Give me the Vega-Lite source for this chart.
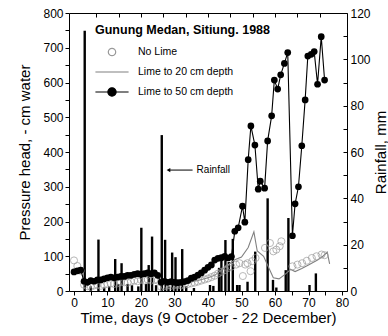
{
  "$schema": "https://vega.github.io/schema/vega-lite/v6.json",
  "width": 278,
  "height": 278,
  "autosize": "none",
  "padding": {"left": 69, "top": 13, "right": 41, "bottom": 45},
  "background": "white",
  "title": {
    "text": "Gunung Medan, Sitiung. 1988",
    "anchor": "start",
    "frame": "group",
    "offset": -29,
    "dx": 26,
    "font": "Liberation Sans",
    "fontSize": 12.5,
    "fontWeight": "bold",
    "color": "black"
  },
  "config": {
    "font": "Liberation Sans",
    "view": {"stroke": "black", "strokeWidth": 1},
    "axis": {
      "grid": false,
      "domainColor": "black",
      "tickColor": "black",
      "labelColor": "black",
      "titleColor": "black",
      "labelFont": "Liberation Sans",
      "titleFont": "Liberation Sans",
      "labelFontSize": 12,
      "titleFontSize": 15,
      "titleFontWeight": "normal",
      "tickSize": 4,
      "labelPadding": 2
    }
  },
  "datasets": {
    "pressure": [
      {"d": 0, "h": 88, "s": "No Lime"}, {"d": 1, "h": 72, "s": "No Lime"}, {"d": 2, "h": 58, "s": "No Lime"},
      {"d": 3, "h": 18, "s": "No Lime"}, {"d": 4, "h": 14, "s": "No Lime"}, {"d": 5, "h": 12, "s": "No Lime"},
      {"d": 6, "h": 16, "s": "No Lime"}, {"d": 7, "h": 18, "s": "No Lime"}, {"d": 8, "h": 15, "s": "No Lime"},
      {"d": 9, "h": 18, "s": "No Lime"}, {"d": 10, "h": 20, "s": "No Lime"}, {"d": 11, "h": 22, "s": "No Lime"},
      {"d": 12, "h": 20, "s": "No Lime"}, {"d": 13, "h": 22, "s": "No Lime"}, {"d": 14, "h": 25, "s": "No Lime"},
      {"d": 15, "h": 25, "s": "No Lime"}, {"d": 16, "h": 24, "s": "No Lime"}, {"d": 17, "h": 27, "s": "No Lime"},
      {"d": 18, "h": 30, "s": "No Lime"}, {"d": 19, "h": 28, "s": "No Lime"}, {"d": 20, "h": 32, "s": "No Lime"},
      {"d": 21, "h": 30, "s": "No Lime"}, {"d": 22, "h": 33, "s": "No Lime"}, {"d": 23, "h": 30, "s": "No Lime"},
      {"d": 24, "h": 32, "s": "No Lime"}, {"d": 25, "h": 30, "s": "No Lime"}, {"d": 26, "h": 12, "s": "No Lime"},
      {"d": 27, "h": 14, "s": "No Lime"}, {"d": 28, "h": 16, "s": "No Lime"}, {"d": 29, "h": 15, "s": "No Lime"},
      {"d": 30, "h": 17, "s": "No Lime"}, {"d": 31, "h": 18, "s": "No Lime"}, {"d": 32, "h": 16, "s": "No Lime"},
      {"d": 33, "h": 18, "s": "No Lime"}, {"d": 34, "h": 20, "s": "No Lime"}, {"d": 35, "h": 22, "s": "No Lime"},
      {"d": 36, "h": 24, "s": "No Lime"}, {"d": 37, "h": 27, "s": "No Lime"}, {"d": 38, "h": 30, "s": "No Lime"},
      {"d": 39, "h": 33, "s": "No Lime"}, {"d": 40, "h": 36, "s": "No Lime"}, {"d": 41, "h": 40, "s": "No Lime"},
      {"d": 42, "h": 44, "s": "No Lime"}, {"d": 43, "h": 50, "s": "No Lime"}, {"d": 44, "h": 55, "s": "No Lime"},
      {"d": 45, "h": 60, "s": "No Lime"}, {"d": 46, "h": 66, "s": "No Lime"}, {"d": 47, "h": 70, "s": "No Lime"},
      {"d": 48.4, "h": 76, "s": "No Lime"}, {"d": 49.4, "h": 80, "s": "No Lime"}, {"d": 50.4, "h": 43, "s": "No Lime"},
      {"d": 51.1, "h": 76, "s": "No Lime"}, {"d": 51.8, "h": 80, "s": "No Lime"}, {"d": 52.7, "h": 57, "s": "No Lime"},
      {"d": 53.2, "h": 86, "s": "No Lime"}, {"d": 54.2, "h": 95, "s": "No Lime"}, {"d": 57, "h": 124, "s": "No Lime"},
      {"d": 58.5, "h": 138, "s": "No Lime"}, {"d": 59.5, "h": 114, "s": "No Lime"}, {"d": 60.4, "h": 119, "s": "No Lime"},
      {"d": 61.4, "h": 129, "s": "No Lime"}, {"d": 61.9, "h": 143, "s": "No Lime"}, {"d": 65.2, "h": 71, "s": "No Lime"},
      {"d": 66.7, "h": 76, "s": "No Lime"}, {"d": 68.1, "h": 80, "s": "No Lime"}, {"d": 69.5, "h": 87, "s": "No Lime"},
      {"d": 71, "h": 95, "s": "No Lime"}, {"d": 72.4, "h": 100, "s": "No Lime"}, {"d": 73.9, "h": 105, "s": "No Lime"},
      {"d": 74.8, "h": 103, "s": "No Lime"},

      {"d": 0, "h": 62, "s": "Lime to 20 cm depth"}, {"d": 1, "h": 60, "s": "Lime to 20 cm depth"},
      {"d": 2, "h": 58, "s": "Lime to 20 cm depth"}, {"d": 3, "h": 32, "s": "Lime to 20 cm depth"},
      {"d": 5, "h": 30, "s": "Lime to 20 cm depth"}, {"d": 8, "h": 34, "s": "Lime to 20 cm depth"},
      {"d": 11, "h": 38, "s": "Lime to 20 cm depth"}, {"d": 14, "h": 40, "s": "Lime to 20 cm depth"},
      {"d": 17, "h": 44, "s": "Lime to 20 cm depth"}, {"d": 20, "h": 46, "s": "Lime to 20 cm depth"},
      {"d": 23, "h": 44, "s": "Lime to 20 cm depth"}, {"d": 25, "h": 40, "s": "Lime to 20 cm depth"},
      {"d": 26, "h": 22, "s": "Lime to 20 cm depth"}, {"d": 28, "h": 24, "s": "Lime to 20 cm depth"},
      {"d": 31, "h": 22, "s": "Lime to 20 cm depth"}, {"d": 34, "h": 24, "s": "Lime to 20 cm depth"},
      {"d": 37, "h": 30, "s": "Lime to 20 cm depth"}, {"d": 40, "h": 38, "s": "Lime to 20 cm depth"},
      {"d": 42, "h": 45, "s": "Lime to 20 cm depth"}, {"d": 44, "h": 60, "s": "Lime to 20 cm depth"},
      {"d": 46, "h": 75, "s": "Lime to 20 cm depth"}, {"d": 48, "h": 90, "s": "Lime to 20 cm depth"},
      {"d": 50, "h": 98, "s": "Lime to 20 cm depth"}, {"d": 52, "h": 125, "s": "Lime to 20 cm depth"},
      {"d": 53.7, "h": 170, "s": "Lime to 20 cm depth"}, {"d": 54.7, "h": 115, "s": "Lime to 20 cm depth"},
      {"d": 56.6, "h": 100, "s": "Lime to 20 cm depth"}, {"d": 58, "h": 70, "s": "Lime to 20 cm depth"},
      {"d": 59.5, "h": 38, "s": "Lime to 20 cm depth"}, {"d": 61.2, "h": 35, "s": "Lime to 20 cm depth"},
      {"d": 63, "h": 48, "s": "Lime to 20 cm depth"}, {"d": 64.7, "h": 62, "s": "Lime to 20 cm depth"},
      {"d": 66, "h": 56, "s": "Lime to 20 cm depth"}, {"d": 68, "h": 65, "s": "Lime to 20 cm depth"},
      {"d": 70, "h": 75, "s": "Lime to 20 cm depth"}, {"d": 72.7, "h": 89, "s": "Lime to 20 cm depth"},
      {"d": 74.3, "h": 100, "s": "Lime to 20 cm depth"}, {"d": 75.6, "h": 112, "s": "Lime to 20 cm depth"},
      {"d": 76.3, "h": 78, "s": "Lime to 20 cm depth"},

      {"d": 0, "h": 55, "s": "Lime to 50 cm depth"}, {"d": 1, "h": 58, "s": "Lime to 50 cm depth"},
      {"d": 2, "h": 60, "s": "Lime to 50 cm depth"}, {"d": 3, "h": 28, "s": "Lime to 50 cm depth"},
      {"d": 4, "h": 25, "s": "Lime to 50 cm depth"}, {"d": 5, "h": 30, "s": "Lime to 50 cm depth"},
      {"d": 6, "h": 28, "s": "Lime to 50 cm depth"}, {"d": 7, "h": 32, "s": "Lime to 50 cm depth"},
      {"d": 8, "h": 32, "s": "Lime to 50 cm depth"}, {"d": 9, "h": 35, "s": "Lime to 50 cm depth"},
      {"d": 10, "h": 38, "s": "Lime to 50 cm depth"}, {"d": 11, "h": 40, "s": "Lime to 50 cm depth"},
      {"d": 12, "h": 38, "s": "Lime to 50 cm depth"}, {"d": 13, "h": 40, "s": "Lime to 50 cm depth"},
      {"d": 14, "h": 42, "s": "Lime to 50 cm depth"}, {"d": 15, "h": 42, "s": "Lime to 50 cm depth"},
      {"d": 16, "h": 45, "s": "Lime to 50 cm depth"}, {"d": 17, "h": 45, "s": "Lime to 50 cm depth"},
      {"d": 18, "h": 48, "s": "Lime to 50 cm depth"}, {"d": 19, "h": 50, "s": "Lime to 50 cm depth"},
      {"d": 20, "h": 48, "s": "Lime to 50 cm depth"}, {"d": 21, "h": 50, "s": "Lime to 50 cm depth"},
      {"d": 22, "h": 52, "s": "Lime to 50 cm depth"}, {"d": 23, "h": 50, "s": "Lime to 50 cm depth"},
      {"d": 24, "h": 52, "s": "Lime to 50 cm depth"}, {"d": 25, "h": 45, "s": "Lime to 50 cm depth"},
      {"d": 26, "h": 25, "s": "Lime to 50 cm depth"}, {"d": 27, "h": 28, "s": "Lime to 50 cm depth"},
      {"d": 28, "h": 25, "s": "Lime to 50 cm depth"}, {"d": 29, "h": 27, "s": "Lime to 50 cm depth"},
      {"d": 30, "h": 25, "s": "Lime to 50 cm depth"}, {"d": 31, "h": 24, "s": "Lime to 50 cm depth"},
      {"d": 32, "h": 25, "s": "Lime to 50 cm depth"}, {"d": 33, "h": 27, "s": "Lime to 50 cm depth"},
      {"d": 34, "h": 30, "s": "Lime to 50 cm depth"}, {"d": 35, "h": 37, "s": "Lime to 50 cm depth"},
      {"d": 36, "h": 40, "s": "Lime to 50 cm depth"}, {"d": 37, "h": 46, "s": "Lime to 50 cm depth"},
      {"d": 38, "h": 52, "s": "Lime to 50 cm depth"}, {"d": 39, "h": 60, "s": "Lime to 50 cm depth"},
      {"d": 40, "h": 68, "s": "Lime to 50 cm depth"}, {"d": 41, "h": 75, "s": "Lime to 50 cm depth"},
      {"d": 42, "h": 89, "s": "Lime to 50 cm depth"}, {"d": 43, "h": 94, "s": "Lime to 50 cm depth"},
      {"d": 44, "h": 96, "s": "Lime to 50 cm depth"}, {"d": 45, "h": 100, "s": "Lime to 50 cm depth"},
      {"d": 46, "h": 95, "s": "Lime to 50 cm depth"}, {"d": 47, "h": 99, "s": "Lime to 50 cm depth"},
      {"d": 48, "h": 172, "s": "Lime to 50 cm depth"}, {"d": 49, "h": 182, "s": "Lime to 50 cm depth"},
      {"d": 50.3, "h": 244, "s": "Lime to 50 cm depth"}, {"d": 51, "h": 198, "s": "Lime to 50 cm depth"},
      {"d": 52, "h": 378, "s": "Lime to 50 cm depth"}, {"d": 52.8, "h": 475, "s": "Lime to 50 cm depth"},
      {"d": 54, "h": 420, "s": "Lime to 50 cm depth"}, {"d": 55, "h": 293, "s": "Lime to 50 cm depth"},
      {"d": 55.6, "h": 316, "s": "Lime to 50 cm depth"}, {"d": 56.9, "h": 296, "s": "Lime to 50 cm depth"},
      {"d": 57.8, "h": 432, "s": "Lime to 50 cm depth"}, {"d": 59, "h": 504, "s": "Lime to 50 cm depth"},
      {"d": 59.8, "h": 607, "s": "Lime to 50 cm depth"}, {"d": 60.8, "h": 581, "s": "Lime to 50 cm depth"},
      {"d": 61.7, "h": 622, "s": "Lime to 50 cm depth"}, {"d": 62.8, "h": 655, "s": "Lime to 50 cm depth"},
      {"d": 63.8, "h": 686, "s": "Lime to 50 cm depth"}, {"d": 65.2, "h": 159, "s": "Lime to 50 cm depth"},
      {"d": 66, "h": 251, "s": "Lime to 50 cm depth"}, {"d": 67, "h": 300, "s": "Lime to 50 cm depth"},
      {"d": 68, "h": 418, "s": "Lime to 50 cm depth"}, {"d": 69, "h": 550, "s": "Lime to 50 cm depth"},
      {"d": 69.8, "h": 676, "s": "Lime to 50 cm depth"}, {"d": 70.8, "h": 681, "s": "Lime to 50 cm depth"},
      {"d": 71.7, "h": 689, "s": "Lime to 50 cm depth"}, {"d": 72.7, "h": 595, "s": "Lime to 50 cm depth"},
      {"d": 73.8, "h": 732, "s": "Lime to 50 cm depth"}, {"d": 74.8, "h": 607, "s": "Lime to 50 cm depth"}
    ],
    "rain": [
      {"d": 3.2, "mm": 112.3}, {"d": 5, "mm": 2}, {"d": 7.3, "mm": 22.2}, {"d": 9, "mm": 1.5},
      {"d": 10.5, "mm": 2}, {"d": 12.3, "mm": 13.8}, {"d": 13.2, "mm": 3}, {"d": 14.2, "mm": 12},
      {"d": 16, "mm": 3}, {"d": 17.3, "mm": 2.5}, {"d": 19.2, "mm": 2}, {"d": 20.1, "mm": 27.3},
      {"d": 21.5, "mm": 3}, {"d": 22.3, "mm": 11.2}, {"d": 23.3, "mm": 23.5}, {"d": 24.5, "mm": 2.5},
      {"d": 26.2, "mm": 67.3}, {"d": 27.2, "mm": 22.1}, {"d": 28.2, "mm": 2}, {"d": 29.3, "mm": 16.6},
      {"d": 30.3, "mm": 14.6}, {"d": 31.3, "mm": 2}, {"d": 32.3, "mm": 18.1}, {"d": 33.5, "mm": 2},
      {"d": 35.8, "mm": 1.3}, {"d": 40.6, "mm": 2.6}, {"d": 41.6, "mm": 2.2}, {"d": 43.3, "mm": 10},
      {"d": 44, "mm": 15}, {"d": 45.2, "mm": 22}, {"d": 46.2, "mm": 12.5}, {"d": 47.4, "mm": 22.5},
      {"d": 48.7, "mm": 2.6}, {"d": 49.4, "mm": 2.6}, {"d": 51.8, "mm": 4}, {"d": 54.1, "mm": 17},
      {"d": 57.8, "mm": 40}, {"d": 59.4, "mm": 4.8}, {"d": 60.4, "mm": 1.5}, {"d": 63.2, "mm": 9},
      {"d": 64, "mm": 31.5}, {"d": 70.3, "mm": 2.6}, {"d": 72.2, "mm": 7.6}
    ],
    "notes": [
      {"d": 28.2, "d2": 35.4, "h": 348, "label": "Rainfall", "tx": 36.6}
    ]
  },
  "resolve": {"scale": {"y": "independent"}, "axis": {"x": "independent"}},
  "layer": [
    {
      "data": {"name": "rain"},
      "mark": {"type": "bar", "size": 2.4, "color": "black"},
      "encoding": {
        "x": {
          "field": "d", "type": "quantitative",
          "scale": {"domain": [0, 80], "nice": false},
          "axis": {
            "orient": "top", "labels": false, "title": null, "domain": false,
            "tickSize": -4,
            "values": [6.667, 13.333, 20, 26.667, 33.333, 40, 46.667, 53.333, 60, 66.667, 73.333]
          }
        },
        "y": {
          "field": "mm", "type": "quantitative",
          "scale": {"domain": [0, 120], "nice": false},
          "axis": {
            "orient": "right", "title": "Rainfall, mm", "domain": false,
            "values": [0, 10, 20, 30, 40, 50, 60, 70, 80, 90, 100, 110, 120],
            "labelExpr": "datum.value % 20 == 0 ? datum.label : ''",
            "tickSize": -4, "labelPadding": 7,
            "titleAngle": 270, "titlePadding": 18
          }
        }
      }
    },
    {
      "data": {"name": "pressure"},
      "transform": [{"filter": "datum.s != 'No Lime'"}],
      "mark": {"type": "line", "strokeWidth": 1.1},
      "encoding": {
        "x": {
          "field": "d", "type": "quantitative",
          "scale": {"domain": [0, 80], "nice": false},
          "axis": {
            "orient": "bottom", "title": "Time, days (9 October - 22 December)", "domain": false,
            "values": [0, 5, 10, 15, 20, 25, 30, 35, 40, 45, 50, 55, 60, 65, 70, 75, 80],
            "labelExpr": "datum.value % 10 == 0 ? datum.label : ''",
            "titlePadding": 2
          }
        },
        "y": {
          "field": "h", "type": "quantitative",
          "scale": {"domain": [0, 800], "nice": false},
          "axis": {
            "orient": "left", "title": "Pressure head, - cm water", "domain": false,
            "values": [0, 50, 100, 150, 200, 250, 300, 350, 400, 450, 500, 550, 600, 650, 700, 750, 800],
            "labelExpr": "datum.value % 100 == 0 ? datum.label : ''",
            "titlePadding": 10
          }
        },
        "stroke": {
          "field": "s", "type": "nominal",
          "scale": {
            "domain": ["No Lime", "Lime to 20 cm depth", "Lime to 50 cm depth"],
            "range": ["#9a9a9a", "#808080", "black"]
          },
          "legend": {
            "orient": "none", "legendX": 25.5, "legendY": 29, "title": null, "padding": 0,
            "symbolSize": 100, "labelOffset": 8.5, "rowPadding": 0, "clipHeight": 20,
            "labelFont": "Liberation Sans", "labelFontSize": 10.5, "labelColor": "black",
            "encode": {
              "symbols": {
                "update": {
                  "shape": {"signal": "datum.value == 'No Lime' ? 'circle' : datum.value == 'Lime to 20 cm depth' ? 'stroke' : 'M-1,0L1,0M-0.25,0A0.25,0.25,0,1,1,0.25,0A0.25,0.25,0,1,1,-0.25,0Z'"},
                  "size": {"signal": "datum.value == 'No Lime' ? 55 : 1100"},
                  "fill": {"signal": "datum.value == 'Lime to 50 cm depth' ? 'black' : 'transparent'"},
                  "stroke": {"signal": "datum.value == 'No Lime' ? '#9a9a9a' : datum.value == 'Lime to 20 cm depth' ? '#808080' : 'black'"},
                  "strokeWidth": {"value": 1.2}
                }
              }
            }
          }
        }
      }
    },
    {
      "data": {"name": "pressure"},
      "transform": [{"filter": "datum.s == 'No Lime'"}],
      "mark": {"type": "point", "shape": "circle", "filled": false, "size": 50, "stroke": "#9a9a9a", "strokeWidth": 1},
      "encoding": {
        "x": {"field": "d", "type": "quantitative", "axis": null},
        "y": {"field": "h", "type": "quantitative", "scale": {"domain": [0, 800], "nice": false}, "axis": null}
      }
    },
    {
      "data": {"name": "pressure"},
      "transform": [{"filter": "datum.s == 'Lime to 50 cm depth'"}],
      "mark": {"type": "point", "shape": "circle", "filled": true, "size": 45, "color": "black", "opacity": 1},
      "encoding": {
        "x": {"field": "d", "type": "quantitative", "axis": null},
        "y": {"field": "h", "type": "quantitative", "scale": {"domain": [0, 800], "nice": false}, "axis": null}
      }
    },
    {
      "data": {"name": "notes"},
      "mark": {"type": "rule", "color": "black", "strokeWidth": 1},
      "encoding": {
        "x": {"field": "d", "type": "quantitative", "axis": null},
        "x2": {"field": "d2"},
        "y": {"field": "h", "type": "quantitative", "scale": {"domain": [0, 800], "nice": false}, "axis": null}
      }
    },
    {
      "data": {"name": "notes"},
      "mark": {"type": "point", "shape": "triangle-left", "filled": true, "size": 18, "color": "black", "opacity": 1},
      "encoding": {
        "x": {"field": "d", "type": "quantitative", "axis": null},
        "y": {"field": "h", "type": "quantitative", "scale": {"domain": [0, 800], "nice": false}, "axis": null}
      }
    },
    {
      "data": {"name": "notes"},
      "mark": {"type": "text", "align": "left", "baseline": "middle", "font": "Liberation Sans", "fontSize": 10, "color": "black"},
      "encoding": {
        "x": {"field": "tx", "type": "quantitative", "axis": null},
        "y": {"field": "h", "type": "quantitative", "scale": {"domain": [0, 800], "nice": false}, "axis": null},
        "text": {"field": "label"}
      }
    }
  ]
}
